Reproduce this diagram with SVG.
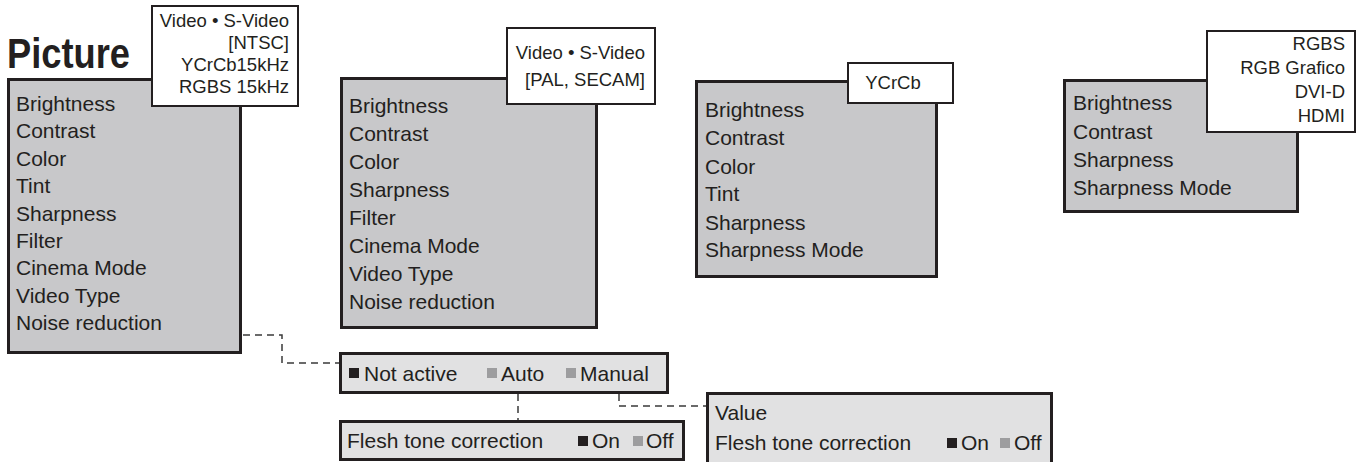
<svg xmlns="http://www.w3.org/2000/svg" width="1364" height="462" viewBox="0 0 1364 462">
<style>
text{font-family:"Liberation Sans",Arial,sans-serif;fill:#231f20}
.it{font-size:21px}
.lb{font-size:18.5px}
.r{text-anchor:end}
.menu{fill:#c8c8ca;stroke:#231f20;stroke-width:3}
.sub{fill:#e1e1e2;stroke:#231f20;stroke-width:3}
.tag{fill:#fff;stroke:#231f20;stroke-width:2}
.on{fill:#231f20}
.off{fill:#9d9d9f}
.dash{fill:none;stroke:#3a3a3a;stroke-width:1.5;stroke-dasharray:7 5}
</style>
<text x="7" y="68" font-size="43" font-weight="bold" textLength="123" lengthAdjust="spacingAndGlyphs">Picture</text>
<g id="connectors">
<path class="dash" d="M243 335H282V363H340"/>
<path class="dash" d="M518 394V421"/>
<path class="dash" d="M619 394V406H707"/>
</g>
<g id="menu-ntsc">
<rect class="menu" x="8.5" y="79.5" width="232" height="273"/>
<text class="it" x="16" y="111">Brightness</text>
<text class="it" x="16" y="138.4">Contrast</text>
<text class="it" x="16" y="165.8">Color</text>
<text class="it" x="16" y="193.2">Tint</text>
<text class="it" x="16" y="220.6">Sharpness</text>
<text class="it" x="16" y="248">Filter</text>
<text class="it" x="16" y="275.4">Cinema Mode</text>
<text class="it" x="16" y="302.8">Video Type</text>
<text class="it" x="16" y="330.2">Noise reduction</text>
</g>
<g id="tag-ntsc">
<rect class="tag" x="152" y="6" width="146" height="100"/>
<text class="lb r" x="289" y="27">Video • S-Video</text>
<text class="lb r" x="289" y="49">[NTSC]</text>
<text class="lb r" x="289" y="71">YCrCb15kHz</text>
<text class="lb r" x="289" y="93">RGBS 15kHz</text>
</g>
<g id="menu-pal">
<rect class="menu" x="341.5" y="78.5" width="255" height="249"/>
<text class="it" x="349" y="113">Brightness</text>
<text class="it" x="349" y="141">Contrast</text>
<text class="it" x="349" y="169">Color</text>
<text class="it" x="349" y="197">Sharpness</text>
<text class="it" x="349" y="225">Filter</text>
<text class="it" x="349" y="253">Cinema Mode</text>
<text class="it" x="349" y="281">Video Type</text>
<text class="it" x="349" y="309">Noise reduction</text>
</g>
<g id="tag-pal">
<rect class="tag" x="507" y="28" width="148" height="76"/>
<text class="lb r" x="645" y="59">Video • S-Video</text>
<text class="lb r" x="645" y="86">[PAL, SECAM]</text>
</g>
<g id="menu-ycrcb">
<rect class="menu" x="696.5" y="81.5" width="240" height="195"/>
<text class="it" x="705" y="117">Brightness</text>
<text class="it" x="705" y="145">Contrast</text>
<text class="it" x="705" y="174">Color</text>
<text class="it" x="705" y="201">Tint</text>
<text class="it" x="705" y="230">Sharpness</text>
<text class="it" x="705" y="257">Sharpness Mode</text>
</g>
<g id="tag-ycrcb">
<rect class="tag" x="848" y="63" width="105" height="40"/>
<text class="lb" x="893" y="89" text-anchor="middle">YCrCb</text>
</g>
<g id="menu-rgb">
<rect class="menu" x="1064.5" y="80.5" width="233" height="131"/>
<text class="it" x="1073" y="110">Brightness</text>
<text class="it" x="1073" y="139">Contrast</text>
<text class="it" x="1073" y="167">Sharpness</text>
<text class="it" x="1073" y="195">Sharpness Mode</text>
</g>
<g id="tag-rgb">
<rect class="tag" x="1207" y="31" width="148" height="101"/>
<text class="lb r" x="1345" y="50">RGBS</text>
<text class="lb r" x="1345" y="74">RGB Grafico</text>
<text class="lb r" x="1345" y="98">DVI-D</text>
<text class="lb r" x="1345" y="122">HDMI</text>
</g>
<g id="noise-options">
<rect class="sub" x="340.5" y="353.5" width="327" height="39"/>
<rect class="on" x="349" y="368" width="10" height="10"/>
<text class="it" x="364" y="381">Not active</text>
<rect class="off" x="487" y="368" width="10" height="10"/>
<text class="it" x="501" y="381">Auto</text>
<rect class="off" x="566" y="368" width="10" height="10"/>
<text class="it" x="580" y="381">Manual</text>
</g>
<g id="auto-flesh">
<rect class="sub" x="340.5" y="421.5" width="343" height="38"/>
<text class="it" x="347" y="448">Flesh tone correction</text>
<rect class="on" x="578" y="436" width="10" height="10"/>
<text class="it" x="592" y="448">On</text>
<rect class="off" x="633" y="436" width="10" height="10"/>
<text class="it" x="646" y="448">Off</text>
</g>
<g id="manual-value">
<rect class="sub" x="707.5" y="393.5" width="344" height="80"/>
<text class="it" x="715" y="420">Value</text>
<text class="it" x="715" y="450">Flesh tone correction</text>
<rect class="on" x="947" y="438" width="10" height="10"/>
<text class="it" x="961" y="450">On</text>
<rect class="off" x="1000" y="438" width="10" height="10"/>
<text class="it" x="1014" y="450">Off</text>
</g>
</svg>
